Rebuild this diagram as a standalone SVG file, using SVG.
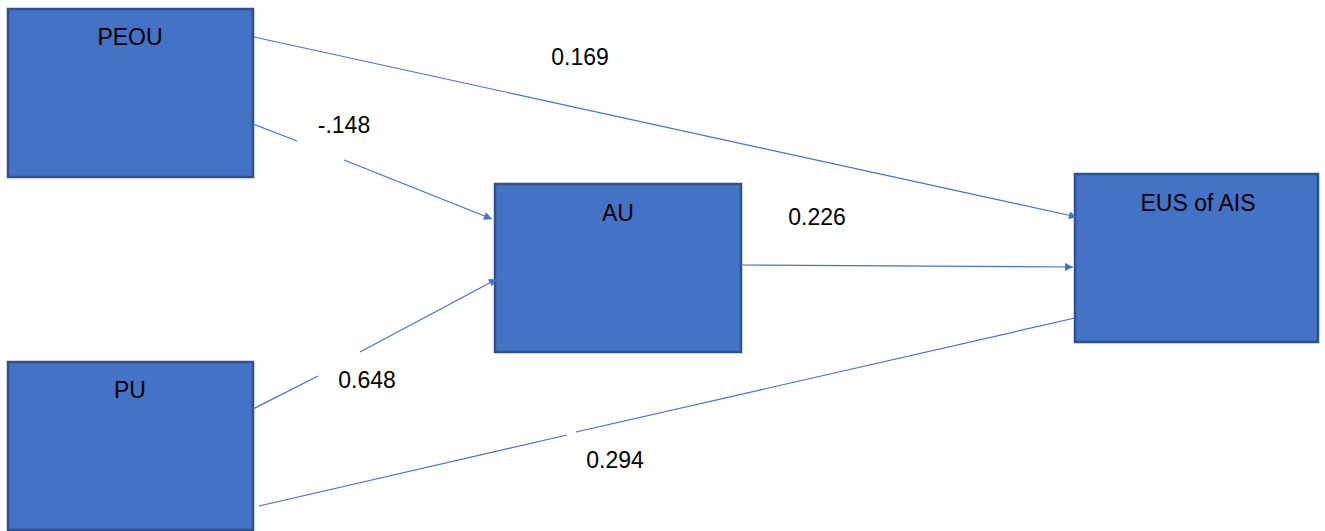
<svg xmlns="http://www.w3.org/2000/svg" width="1325" height="531" viewBox="0 0 1325 531">
<style>
.box{fill:#4472C4;stroke:#2F528F;stroke-width:2.5}
.lbl{font-family:"Liberation Sans",Arial,sans-serif;font-size:23px;fill:#000;text-anchor:middle}
.ln{stroke:#4472C4;stroke-width:1.2;fill:none}
</style>
<defs>
<marker id="ah" viewBox="0 0 10 10" refX="10" refY="5" markerWidth="10" markerHeight="8" markerUnits="userSpaceOnUse" orient="auto">
<path d="M0,0 L10,5 L0,10 z" fill="#4472C4"/>
</marker>
</defs>
<rect width="1325" height="531" fill="#fff"/>
<g id="PEOU"><rect class="box" x="8" y="9" width="245" height="168"/><text class="lbl" x="130" y="45">PEOU</text></g>
<g id="PU"><rect class="box" x="8" y="362" width="245" height="168"/><text class="lbl" x="130" y="398">PU</text></g>
<g id="AU"><rect class="box" x="495" y="184" width="246" height="168"/><text class="lbl" x="618" y="221">AU</text></g>
<g id="EUS"><rect class="box" x="1075" y="174" width="243" height="168"/><text class="lbl" x="1198" y="211">EUS of AIS</text></g>
<g id="connectors">
<line class="ln" x1="254" y1="37" x2="1077" y2="217" marker-end="url(#ah)"/>
<line class="ln" x1="253" y1="124" x2="297" y2="141"/>
<line class="ln" x1="344" y1="160" x2="492" y2="219" marker-end="url(#ah)"/>
<line class="ln" x1="253" y1="409" x2="318" y2="376"/>
<line class="ln" x1="360" y1="352" x2="497" y2="279" marker-end="url(#ah)"/>
<line class="ln" x1="741" y1="265" x2="1073" y2="267" marker-end="url(#ah)"/>
<line class="ln" x1="259" y1="506" x2="567" y2="435"/>
<line class="ln" x1="576" y1="432" x2="1075" y2="318"/>
</g>
<g id="labels">
<text class="lbl" x="580" y="65">0.169</text>
<text class="lbl" x="344" y="133">-.148</text>
<text class="lbl" x="817" y="225">0.226</text>
<text class="lbl" x="367" y="388">0.648</text>
<text class="lbl" x="615" y="468">0.294</text>
</g>
</svg>
